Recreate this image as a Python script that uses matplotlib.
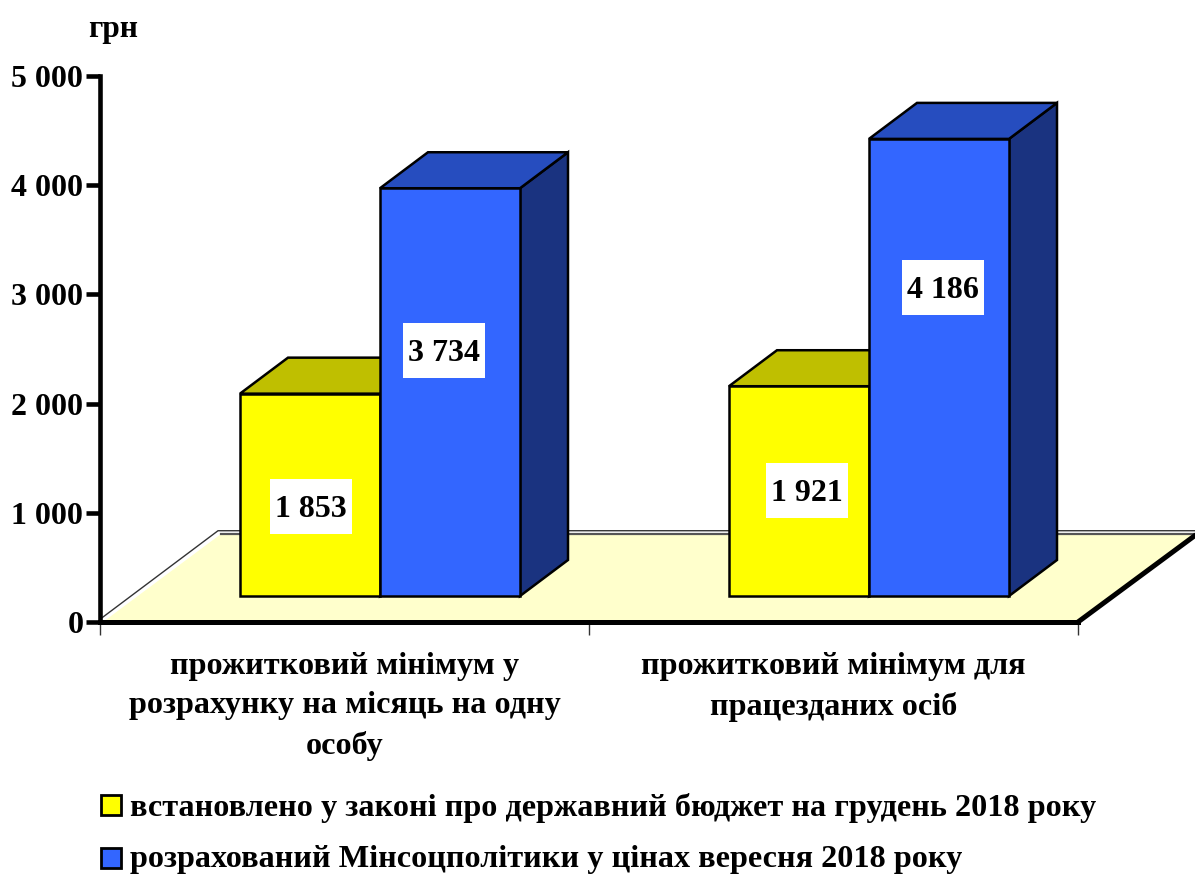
import matplotlib
matplotlib.use('Agg')
import matplotlib.pyplot as plt
from matplotlib.patches import Polygon, Rectangle

plt.rcParams['font.family'] = ['Liberation Serif', 'DejaVu Serif']
plt.rcParams['font.weight'] = 'bold'

kategorii = ['прожитковий мінімум у\nрозрахунку на місяць на одну\nособу',
             'прожитковий мінімум для\nпрацезданих осіб']
zakon = [1853, 1921]
minsoc = [3734, 4186]
rivni = [0, 1000, 2000, 3000, 4000, 5000]
rivni_pidpysy = ['0', '1 000', '2 000', '3 000', '4 000', '5 000']
legenda = ['встановлено у законі про державний бюджет на грудень 2018 року',
           'розрахований Мінсоцполітики у цінах вересня 2018 року']

W, H = 1195, 875
X0, X1, Y0, Y1 = 100, 1078, 622, 76

fig = plt.figure(figsize=(W / 100, H / 100), dpi=100, facecolor='white')
ax = fig.add_axes([X0 / W, 1 - Y0 / H, (X1 - X0) / W, (Y0 - Y1) / H])
ax.set_xlim(0, 2)
ax.set_ylim(0, 5000)
ax.patch.set_visible(False)

# sizes of the fake 3d look, in axes data units
px = 2 / (X1 - X0)
py = 5000 / (Y0 - Y1)
bar_w = 140 * px
shift_x = 35.5 * px
base_y = 26 * py
depth_x = 48 * px
depth_y = 36 * py


def poly(points, color, lw=1.8, z=3):
    ax.add_patch(Polygon(points, closed=True, facecolor=color, edgecolor='black',
                         linewidth=lw, joinstyle='miter', clip_on=False, zorder=z))


def draw_bar(left, value, front, top, side):
    right = left + bar_w
    poly([(right, base_y), (right + depth_x, base_y + depth_y),
          (right + depth_x, value + base_y + depth_y), (right, value + base_y)], side)
    poly([(left, value + base_y), (left + depth_x, value + base_y + depth_y),
          (right + depth_x, value + base_y + depth_y), (right, value + base_y)], top)
    poly([(left, base_y), (right, base_y), (right, value + base_y), (left, value + base_y)], front)


def draw_label(center, y, value):
    ax.add_patch(Rectangle((center - 41 * px, y - 27.5 * py), 82 * px, 55 * py, facecolor='white',
                           edgecolor='none', zorder=5))
    ax.text(center, y - 3 * py, f'{value:,}'.replace(',', ' '), ha='center', va='center',
            fontsize=23, color='black', zorder=6)


# floor: fill, grey back edge, thin wall line, thick right edge
fx = 119 * px
fy = 88 * py
ax.add_patch(Polygon([(0.006, 0), (fx + 0.004, fy), (2 + fx, fy), (2, 0)], closed=True,
                     facecolor='#ffffcc', edgecolor='none', clip_on=False, zorder=1))
ax.plot([fx + 0.004, 2 + fx], [fy, fy], color='#555555', lw=1.6, clip_on=False, zorder=1)
ax.plot([0, fx - 0.002, 2 + fx], [25, fy + 30, fy + 30], color='#333333', lw=1, clip_on=False, zorder=1)
ax.plot([2, 2 + fx], [0, fy], color='black', lw=3.6, clip_on=False, zorder=2, solid_capstyle='butt')

for i in range(2):
    left = i + shift_x + 0.5 - bar_w
    draw_bar(left, zakon[i], '#ffff00', '#bfbf00', '#7f7f00')
    draw_bar(left + bar_w, minsoc[i], '#3366ff', '#264dbf', '#1a3380')

draw_label(0.4315, 1062, zakon[0])
draw_label(0.7035, 2482, minsoc[0])
draw_label(1.4458, 1200, zakon[1])
draw_label(1.724, 3059, minsoc[1])

# axes
for s in ['top', 'right']:
    ax.spines[s].set_visible(False)
ax.spines['left'].set_linewidth(3.3)
ax.spines['bottom'].set_linewidth(3.6)
ax.spines['bottom'].set_zorder(2)
ax.set_yticks(rivni)
ax.set_yticklabels(rivni_pidpysy, fontsize=23)
ax.tick_params(axis='y', length=10, width=3.3, pad=2, direction='out')
ax.set_xticks([0, 1, 2])
ax.set_xticklabels([])
ax.tick_params(axis='x', length=9, width=1, direction='out', color='#333333')

for i, kat in enumerate(kategorii):
    fig.text((X0 + (i + 0.5) * (X1 - X0) / 2) / W, 1 - 652 / H, kat, ha='center', va='top',
             fontsize=23.2, linespacing=1.46)

fig.text(88 / W, 1 - 30 / H, 'грн', fontsize=22.6, va='center', ha='left')

# legend
for y, ty, color, txt in zip([805, 858], [808, 860], ['#ffff00', '#3366ff'], legenda):
    fig.add_artist(Rectangle((101 / W, 1 - (y + 10) / H), 20 / W, 20 / H, transform=fig.transFigure,
                             facecolor=color, edgecolor='black', linewidth=2))
    fig.text(130 / W, 1 - ty / H, txt, fontsize=23.25, va='center', ha='left')

fig.savefig('out.png', dpi=100)
